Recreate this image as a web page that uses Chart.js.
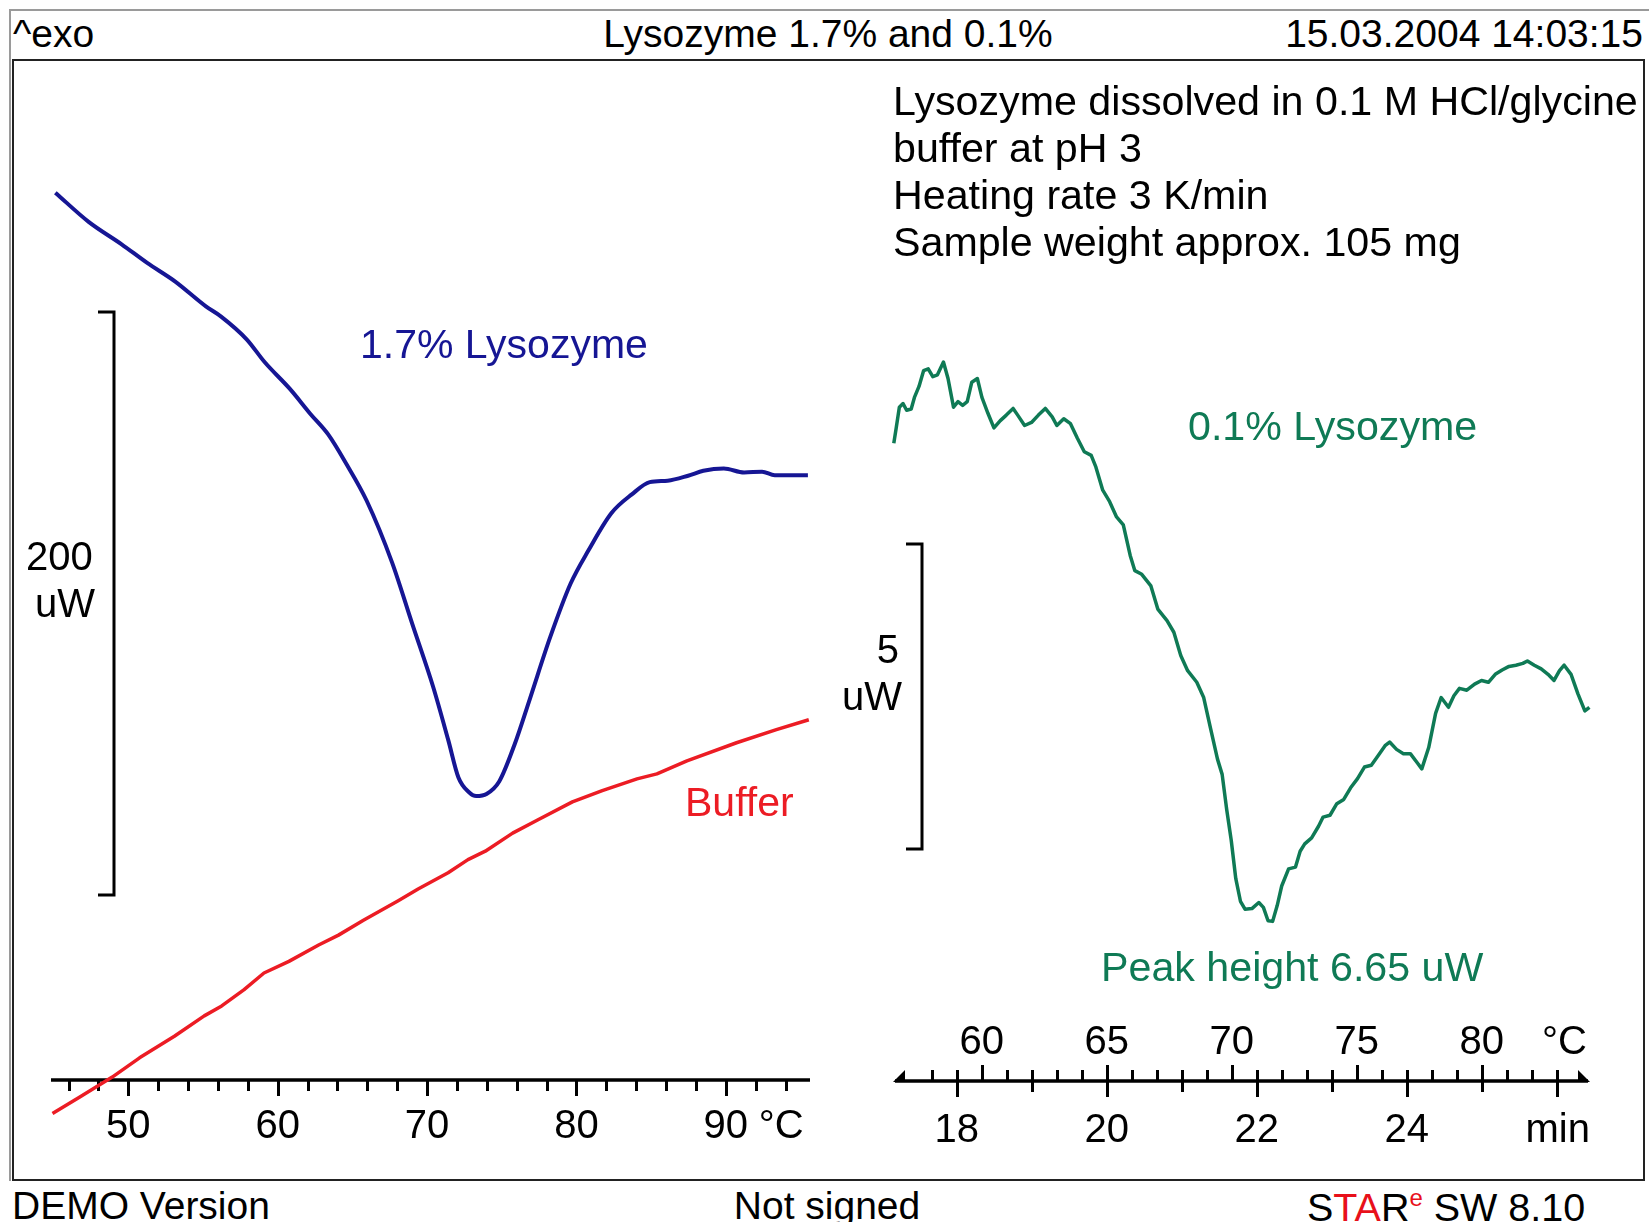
<!DOCTYPE html>
<html><head><meta charset="utf-8">
<script src="https://cdn.jsdelivr.net/npm/chart.js@4.4.1/dist/chart.umd.min.js"></script>
<style>
html,body{margin:0;padding:0;background:#fff;}
#page{position:relative;width:1649px;height:1222px;overflow:hidden;font-family:"Liberation Sans",Arial,Helvetica,sans-serif;color:#000;background:#fff;}
.t{position:absolute;white-space:nowrap;line-height:1;}
canvas{position:absolute;}
.ln{position:absolute;}
</style></head>
<body>
<div id="page">
  <div class="ln" style="left:10px;top:9px;width:1639px;height:2px;background:#9a9a9a;"></div>
  <div class="ln" style="left:9px;top:9px;width:2px;height:1172px;background:#9a9a9a;"></div>
  <div class="ln" style="left:12px;top:59px;width:1629px;height:1118px;border:2px solid #222;"></div>
  <canvas id="cL" width="800" height="1116" style="left:14px;top:62px;"></canvas>
  <canvas id="cR" width="810" height="1116" style="left:830px;top:62px;"></canvas>
</div>
<script>
// ---------------- DATA ----------------
// 1.7% Lysozyme (left plot): temperature in °C, heat flow in uW (arbitrary datum)
const blueTemp = [45.11,47.34,49.55,51.26,53.14,55.19,56.21,57.92,59.12,60.83,62.19,63.39,64.58,65.95,67.66,69.02,70.40,71.42,72.10,72.79,73.29,73.98,74.83,75.86,76.88,78.25,79.62,80.81,82.35,83.71,84.91,86.11,87.48,88.50,89.87,91.23,92.43,93.28,95.50];
const blueHeat = [304.4,294.4,286.7,280.3,273.9,265.4,261.9,254.1,246.3,237.0,228.5,221.4,211.5,198.8,177.5,156.3,135.0,116.6,103.8,98.8,97.4,98.1,102.4,115.1,130.7,152.0,170.4,181.7,194.5,200.9,205.1,205.6,207.3,209.0,209.8,208.4,208.7,207.5,207.5];
// Buffer (left plot)
const redTemp = [44.92,46.75,48.92,50.75,53.08,55.08,56.25,57.75,59.08,60.75,62.74,64.07,65.74,68.07,69.40,71.41,72.74,73.90,75.73,77.40,79.73,81.73,84.06,85.39,87.40,90.72,93.39,95.56];
const redHeat = [-11.5,-5.8,1.0,7.6,15.0,22.0,25.4,31.0,36.7,40.7,46.3,49.7,54.8,61.5,65.5,71.1,75.6,78.5,84.7,89.2,95.4,99.3,103.3,105.0,109.5,115.7,120.2,123.6];
// 0.1% Lysozyme (right plot): time in min, heat flow in uW (arbitrary datum)
const greenTime = [17.161,17.192,17.235,17.284,17.332,17.393,17.436,17.497,17.559,17.620,17.681,17.743,17.823,17.884,17.957,18.017,18.079,18.140,18.201,18.275,18.336,18.416,18.496,18.581,18.661,18.752,18.813,18.905,18.997,19.089,19.181,19.273,19.335,19.427,19.517,19.609,19.701,19.793,19.855,19.947,20.039,20.131,20.221,20.313,20.375,20.467,20.589,20.681,20.804,20.895,20.987,21.079,21.201,21.293,21.385,21.477,21.539,21.599,21.660,21.721,21.783,21.844,21.936,22.028,22.089,22.151,22.212,22.273,22.333,22.425,22.517,22.579,22.640,22.732,22.824,22.885,22.977,23.068,23.160,23.252,23.344,23.436,23.528,23.620,23.711,23.772,23.864,23.956,24.048,24.140,24.201,24.293,24.385,24.459,24.557,24.629,24.703,24.801,24.905,24.997,25.089,25.180,25.272,25.364,25.456,25.548,25.609,25.701,25.793,25.884,25.964,26.037,26.099,26.191,26.283,26.375,26.436];
const greenHeat = [10.44,10.68,11.03,11.09,10.98,11.00,11.19,11.37,11.63,11.66,11.53,11.56,11.77,11.50,11.03,11.12,11.06,11.12,11.44,11.50,11.19,10.93,10.69,10.81,10.90,11.01,10.90,10.73,10.78,10.90,11.01,10.87,10.73,10.84,10.76,10.52,10.30,10.24,10.05,9.67,9.48,9.23,9.10,8.60,8.35,8.29,8.10,7.72,7.53,7.34,6.96,6.71,6.52,6.27,5.76,5.26,5.01,4.44,3.93,3.30,2.93,2.80,2.81,2.91,2.83,2.61,2.60,2.86,3.18,3.46,3.49,3.75,3.87,3.97,4.16,4.31,4.34,4.53,4.60,4.79,4.94,5.13,5.16,5.32,5.48,5.54,5.42,5.35,5.35,5.20,5.10,5.45,6.01,6.27,6.11,6.30,6.42,6.39,6.49,6.55,6.52,6.65,6.72,6.78,6.80,6.83,6.87,6.80,6.74,6.65,6.55,6.71,6.80,6.65,6.33,6.05,6.11];
// Axis tick labels
const leftTempLabels = [50, 60, 70, 80, 90];
const rightTempLabels = [60, 65, 70, 75, 80];
const rightTimeLabels = [18, 20, 22, 24];
// Scale bars (uW)
const leftBar = {base: 63.5, span: 200, label: ['200', 'uW']};
const rightBar = {base: 3.787, span: 5, label: ['5', 'uW']};
// Temperature program for the right plot
const heatingRate = 3;      // K/min
const tempAt18min = 59;     // °C
// Axis ranges
const leftTempRange = [44.82, 95.64];
const leftHeatRange = [-33.62, 349.23];
const rightTimeRange = [17.177, 26.417];
const rightHeatRange = [-1.607, 16.689];

// ---------------- STYLE ----------------
const BLUE = '#161694', RED = '#ec1c24', GREEN = '#0f7a55';
const FONT = '"Liberation Sans", Arial, Helvetica, sans-serif';

// ---------------- TEXT ----------------
const page = document.getElementById('page');
function place(html, x, base, size, color, align) {
  const d = document.createElement('div');
  d.className = 't';
  d.innerHTML = html;
  d.style.fontSize = size + 'px';
  d.style.color = color || '#000';
  d.style.top = (base - 0.8465 * size) + 'px';
  d.style.left = x + 'px';
  if (align === 'center') d.style.transform = 'translateX(-50%)';
  if (align === 'right') d.style.transform = 'translateX(-100%)';
  page.appendChild(d);
}
place('^exo', 13, 47, 39);
place('Lysozyme 1.7% and 0.1%', 828, 47, 39, '#000', 'center');
place('15.03.2004 14:03:15', 1643, 47, 39, '#000', 'right');
place('DEMO Version', 12, 1219, 39);
place('Not signed', 827, 1219, 39, '#000', 'center');
place('S<span style="color:#e8101a">TA</span>R<span style="color:#e8101a;font-size:24px;vertical-align:15px">e</span> SW 8.10', 1307, 1219, 39.5);
const notes = ['Lysozyme dissolved in 0.1 M HCl/glycine', 'buffer at pH 3', 'Heating rate 3 K/min', 'Sample weight approx. 105 mg'];
notes.forEach((s, i) => place(s, 893, 115.7 + 47 * i, 41.2));
place('1.7% Lysozyme', 360, 359, 41, BLUE);
place('Buffer', 685, 817, 41, RED);
place('0.1% Lysozyme', 1188, 441, 41.2, GREEN);
place('Peak height 6.65 uW', 1101, 982, 41.2, GREEN);
place(leftBar.label[0], 26, 570, 40);
place(leftBar.label[1], 35, 617, 40);
place(rightBar.label[0], 899, 663, 40, '#000', 'right');
place(rightBar.label[1], 902, 710, 40, '#000', 'right');

// ---------------- CHARTS ----------------
const L_AXIS_Y = 1018;   // canvas px
const R_AXIS_Y = 1019;

const leftAxis = {
  id: 'leftAxis',
  beforeDatasetsDraw(chart) {
    const {ctx, chartArea, scales: {x, y}} = chart;
    ctx.save();
    ctx.strokeStyle = '#000';
    ctx.lineWidth = 3.5;
    ctx.beginPath();
    ctx.moveTo(chartArea.left, L_AXIS_Y);
    ctx.lineTo(chartArea.right, L_AXIS_Y);
    ctx.stroke();
    ctx.lineWidth = 3;
    ctx.beginPath();
    for (let t = 46; t <= 94; t += 2) {
      const px = Math.round(x.getPixelForValue(t)) + 0.5;
      const major = leftTempLabels.includes(t);
      ctx.moveTo(px, L_AXIS_Y);
      ctx.lineTo(px, L_AXIS_Y + (major ? 16 : 11));
    }
    ctx.stroke();
    ctx.fillStyle = '#000';
    ctx.font = '40px ' + FONT;
    ctx.textBaseline = 'alphabetic';
    ctx.textAlign = 'center';
    leftTempLabels.forEach(t => ctx.fillText(String(t), x.getPixelForValue(t), 1076));
    ctx.textAlign = 'left';
    ctx.fillText('°C', x.getPixelForValue(90) + 33, 1076);
    // scale bar
    const yt = y.getPixelForValue(leftBar.base + leftBar.span), yb = y.getPixelForValue(leftBar.base);
    ctx.lineWidth = 3;
    ctx.lineJoin = 'miter';
    ctx.beginPath();
    ctx.moveTo(84, yt); ctx.lineTo(100, yt); ctx.lineTo(100, yb); ctx.lineTo(84, yb);
    ctx.stroke();
    ctx.restore();
  }
};

const rightAxis = {
  id: 'rightAxis',
  beforeDatasetsDraw(chart) {
    const {ctx, chartArea, scales: {x, xT, y}} = chart;
    ctx.save();
    ctx.strokeStyle = '#000';
    ctx.fillStyle = '#000';
    ctx.lineWidth = 3.5;
    ctx.beginPath();
    ctx.moveTo(chartArea.left, R_AXIS_Y);
    ctx.lineTo(chartArea.right, R_AXIS_Y);
    ctx.stroke();
    // end arrows
    ctx.beginPath();
    ctx.moveTo(chartArea.left - 2, R_AXIS_Y + 1);
    ctx.lineTo(chartArea.left + 10, R_AXIS_Y - 11);
    ctx.lineTo(chartArea.left + 10, R_AXIS_Y + 1);
    ctx.closePath();
    ctx.fill();
    ctx.beginPath();
    ctx.moveTo(chartArea.right + 2, R_AXIS_Y + 1);
    ctx.lineTo(chartArea.right - 10, R_AXIS_Y - 11);
    ctx.lineTo(chartArea.right - 10, R_AXIS_Y + 1);
    ctx.closePath();
    ctx.fill();
    ctx.lineWidth = 3;
    ctx.beginPath();
    for (let T = 58; T <= 83; T++) {
      const px = Math.round(xT.getPixelForValue(T)) + 0.5;
      ctx.moveTo(px, R_AXIS_Y);
      ctx.lineTo(px, R_AXIS_Y - (T % 5 === 0 ? 16 : 11));
    }
    for (let m = 18; m <= 26; m++) {
      const px = Math.round(x.getPixelForValue(m)) + 0.5;
      ctx.moveTo(px, R_AXIS_Y);
      ctx.lineTo(px, R_AXIS_Y + (m % 2 === 0 ? 16 : 11));
    }
    ctx.stroke();
    ctx.font = '40px ' + FONT;
    ctx.textBaseline = 'alphabetic';
    ctx.textAlign = 'center';
    rightTempLabels.forEach(T => ctx.fillText(String(T), xT.getPixelForValue(T), 992));
    rightTimeLabels.forEach(m => ctx.fillText(String(m), x.getPixelForValue(m), 1080));
    ctx.textAlign = 'right';
    ctx.fillText('°C', 757, 992);
    ctx.fillText('min', 760, 1080);
    // scale bar
    const yt = y.getPixelForValue(rightBar.base + rightBar.span), yb = y.getPixelForValue(rightBar.base);
    ctx.lineWidth = 3;
    ctx.beginPath();
    ctx.moveTo(76, yt); ctx.lineTo(92, yt); ctx.lineTo(92, yb); ctx.lineTo(76, yb);
    ctx.stroke();
    ctx.restore();
  }
};

const baseOpts = {
  responsive: false, animation: false, devicePixelRatio: 1, events: [],
  plugins: {legend: {display: false}, tooltip: {enabled: false}, title: {display: false}},
  elements: {point: {radius: 0}}
};

new Chart(document.getElementById('cL'), {
  type: 'line',
  data: {datasets: [
    {label: '1.7% Lysozyme', data: blueTemp.map((t, i) => ({x: t, y: blueHeat[i]})), borderColor: BLUE, borderWidth: 4, cubicInterpolationMode: 'monotone', pointRadius: 0, clip: false, borderJoinStyle: 'round'},
    {label: 'Buffer', data: redTemp.map((t, i) => ({x: t, y: redHeat[i]})), borderColor: RED, borderWidth: 3.5, tension: 0, pointRadius: 0, clip: false, borderJoinStyle: 'round'}
  ]},
  options: Object.assign({}, baseOpts, {
    layout: {padding: {left: 37, right: 4, top: 0, bottom: 0}},
    scales: {
      x: {type: 'linear', min: leftTempRange[0], max: leftTempRange[1], display: false},
      y: {type: 'linear', min: leftHeatRange[0], max: leftHeatRange[1], display: false}
    }
  }),
  plugins: [leftAxis]
});

const tMin = rightTimeRange[0], tMax = rightTimeRange[1];
new Chart(document.getElementById('cR'), {
  type: 'line',
  data: {datasets: [
    {label: '0.1% Lysozyme', data: greenTime.map((t, i) => ({x: t, y: greenHeat[i]})), borderColor: GREEN, borderWidth: 3.5, tension: 0, pointRadius: 0, clip: false, borderJoinStyle: 'round'}
  ]},
  options: Object.assign({}, baseOpts, {
    layout: {padding: {left: 65, right: 52, top: 0, bottom: 0}},
    scales: {
      x: {type: 'linear', min: tMin, max: tMax, display: false},
      xT: {type: 'linear', axis: 'x', position: 'top', display: false,
           min: tempAt18min + heatingRate * (tMin - 18), max: tempAt18min + heatingRate * (tMax - 18)},
      y: {type: 'linear', min: rightHeatRange[0], max: rightHeatRange[1], display: false}
    }
  }),
  plugins: [rightAxis]
});
</script>
</body></html>
